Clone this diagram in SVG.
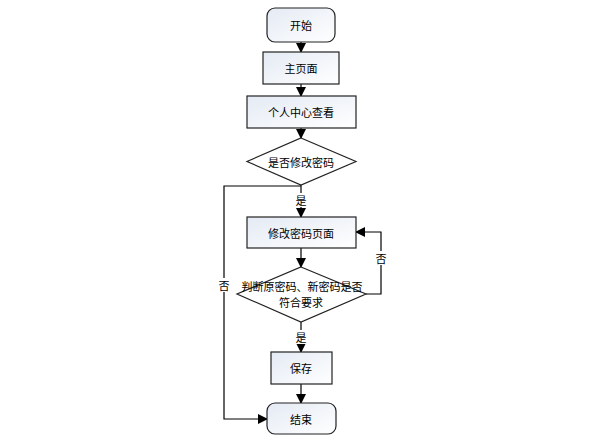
<svg xmlns="http://www.w3.org/2000/svg" width="592" height="438" viewBox="0 0 592 438">
<defs>
<linearGradient id="g" x1="0" y1="0" x2="1" y2="1">
<stop offset="0" stop-color="#e4eaf4"/>
<stop offset="1" stop-color="#ffffff"/>
</linearGradient>
<marker id="a" markerWidth="10" markerHeight="10" refX="9" refY="5" orient="auto" markerUnits="userSpaceOnUse">
<path d="M0,0 L10,5 L0,10 Z" fill="#000"/>
</marker>
<style>
.n{fill:url(#g);stroke:#222;stroke-width:1.2}
.d{fill:#fff;stroke:#222;stroke-width:1.2}
.t{font-family:"Noto Sans CJK SC","Liberation Sans",sans-serif;font-size:11px;fill:#000;text-anchor:middle;dominant-baseline:central}
.c{fill:none;stroke:#000;stroke-width:1.2;marker-end:url(#a)}
.bg{fill:#fff}
</style>
</defs>
<rect width="592" height="438" fill="#fff"/>
<g id="connectors">
<path class="c" d="M301,42 V52"/>
<path class="c" d="M301,84 V96"/>
<path class="c" d="M301,128 V138"/>
<path class="c" d="M301,185 V217"/>
<path class="c" d="M301,248 V267"/>
<path class="c" d="M301,322 V352"/>
<path class="c" d="M301,384 V403"/>
<path class="c" d="M301,186 H224 V419 H267"/>
<path class="c" d="M366,294 H381 V232 H356"/>
<rect class="bg" x="294" y="193" width="14" height="14"/>
<text class="t" x="301" y="200">是</text>
<rect class="bg" x="294" y="330" width="14" height="14"/>
<text class="t" x="301" y="337">是</text>
<rect class="bg" x="374" y="251" width="14" height="14"/>
<text class="t" x="381" y="258">否</text>
<rect class="bg" x="217" y="278" width="14" height="14"/>
<text class="t" x="224" y="285">否</text>
</g>
<g id="start"><rect class="n" x="267" y="8" width="68" height="34" rx="8"/><text class="t" x="301" y="25">开始</text></g>
<g id="home"><rect class="n" x="263" y="52" width="76" height="32"/><text class="t" x="301" y="68">主页面</text></g>
<g id="personal"><rect class="n" x="247" y="96" width="109" height="32"/><text class="t" x="301" y="112">个人中心查看</text></g>
<g id="decide1"><polygon class="d" points="301,138 356,161.5 301,185 247,161.5"/><text class="t" x="301" y="161.5">是否修改密码</text></g>
<g id="changepage"><rect class="n" x="247" y="217" width="109" height="31"/><text class="t" x="301" y="232.5">修改密码页面</text></g>
<g id="decide2"><polygon class="d" points="301,267 366,294 301,322 237,294"/><text class="t" x="302" y="286">判断原密码、新密码是否</text><text class="t" x="301" y="302">符合要求</text></g>
<g id="save"><rect class="n" x="271" y="352" width="61" height="32"/><text class="t" x="301" y="368">保存</text></g>
<g id="end"><rect class="n" x="267" y="403" width="69" height="31" rx="8"/><text class="t" x="301" y="418.5">结束</text></g>
</svg>
